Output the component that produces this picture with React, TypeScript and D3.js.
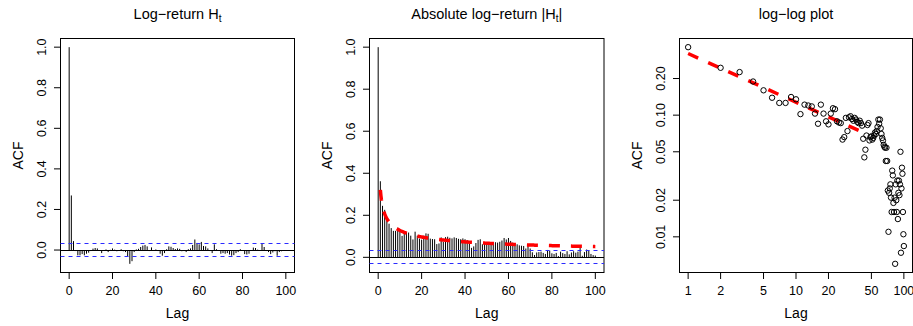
import React from 'react';
import * as d3 from 'd3';

const W = 913;
const H = 326;
const FONT = '"Liberation Sans", Arial, Helvetica, sans-serif';

// ACF of the log-return H_t, lags 0..100
const acfReturn = [
  1.0, 0.269, 0.044, -0.005, -0.026, -0.026, -0.02, -0.026, -0.018, -0.013,
  -0.005, 0.007, 0.01, 0.008, -0.003, -0.015, -0.004, 0.003, -0.01, 0.001,
  0.008, 0.002, -0.006, -0.003, 0.004, -0.006, -0.01, -0.03, -0.068, -0.055,
  -0.01, 0.003, 0.006, 0.015, 0.022, 0.025, 0.018, -0.005, 0.013, -0.004,
  0.003, -0.005, -0.018, -0.028, -0.015, 0.004, 0.018, 0.016, 0.01, 0.005,
  0.008, 0.006, -0.006, -0.005, -0.01, 0.004, 0.008, 0.025, 0.052, 0.035,
  0.028, 0.04, 0.02, 0.018, 0.008, -0.005, -0.015, 0.028, 0.004, -0.003,
  -0.018, -0.015, -0.018, -0.015, -0.022, -0.028, -0.025, -0.015, -0.01, 0.004,
  -0.003, -0.02, -0.022, -0.018, -0.003, 0.012, 0.01, 0.002, -0.002, 0.03,
  0.015, -0.005, -0.01, -0.02, -0.012, -0.006, -0.028, -0.01, -0.006, -0.004,
  -0.002,
];

// ACF of the absolute log-return |H_t|, lags 1..100 (lag 0 is 1)
const acfAbs = [
  0.362, 0.245, 0.226, 0.189, 0.16, 0.139, 0.126, 0.126, 0.141, 0.135,
  0.102, 0.122, 0.12, 0.118, 0.103, 0.085, 0.122, 0.103, 0.089, 0.084,
  0.103, 0.114, 0.112, 0.089, 0.087, 0.086, 0.063, 0.066, 0.095, 0.074,
  0.096, 0.098, 0.093, 0.09, 0.095, 0.092, 0.088, 0.086, 0.09, 0.086,
  0.082, 0.064, 0.045, 0.052, 0.068, 0.083, 0.086, 0.062, 0.066, 0.067,
  0.063, 0.065, 0.068, 0.072, 0.07, 0.074, 0.08, 0.092, 0.085, 0.092,
  0.078, 0.07, 0.065, 0.062, 0.057, 0.055, 0.054, 0.042, 0.054, 0.042,
  0.024, 0.011, 0.023, 0.025, 0.027, 0.021, 0.016, 0.035, 0.032, 0.019,
  0.016, 0.021, 0.006, 0.027, 0.02, 0.016, 0.029, 0.014, 0.023, 0.029,
  0.022, 0.027, 0.05, 0.0074, 0.025, 0.037, 0.033, 0.016, 0.0105, 0.0084,
];

// power-law fit ACF ~ a * lag^b, fitted on lags 1..44
const fitAmp = 0.321;
const fitExp = -0.4;
const fitLagMax = 44;

const ciLevel = 0.031;

const linTicksX = [0, 20, 40, 60, 80, 100];
const linTicksY = [0, 0.2, 0.4, 0.6, 0.8, 1.0];
const logTicksX = [1, 2, 5, 10, 20, 50, 100];
const logTicksY = [0.01, 0.02, 0.05, 0.1, 0.2];

const boxes = [
  { left: 60.5, right: 294.5 },
  { left: 369.5, right: 604 },
  { left: 679.5, right: 912.5 },
];
const boxTop = 38.5;
const boxBottom = 272.5;

const expand = (ext: number[], f = 0.04) => {
  const d = (ext[1] - ext[0]) * f;
  return [ext[0] - d, ext[1] + d];
};

// snap a horizontal hairline onto a pixel row
const crisp = (v: number) => Math.round(v - 0.5) + 0.5;

const Frame = ({ left, right, title, xTicks, yTicks, x, y, fmtY }: any) => (
  <g fontFamily={FONT} fill="#000">
    <rect x={left} y={boxTop} width={right - left} height={boxBottom - boxTop} fill="none" stroke="#000" strokeWidth={1} />
    {xTicks.map((t: number) => (
      <g key={'x' + t}>
        <line x1={x(t)} x2={x(t)} y1={boxBottom} y2={boxBottom + 6.5} stroke="#000" />
        <text x={x(t)} y={295} textAnchor="middle" fontSize={12.5}>{t}</text>
      </g>
    ))}
    {yTicks.map((t: number) => (
      <g key={'y' + t}>
        <line x1={left - 6.5} x2={left} y1={y(t)} y2={y(t)} stroke="#000" />
        <text transform={`translate(${left - 14.5},${y(t)}) rotate(-90)`} textAnchor="middle" fontSize={12.5}>{fmtY(t)}</text>
      </g>
    ))}
    <text x={(left + right) / 2} y={318} textAnchor="middle" fontSize={14}>Lag</text>
    <text transform={`translate(${left - 37.5},${(boxTop + boxBottom) / 2}) rotate(-90)`} textAnchor="middle" fontSize={14}>ACF</text>
    <text x={(left + right) / 2} y={18.5} textAnchor="middle" fontSize={14.5}>{title}</text>
  </g>
);

const AcfPanel = ({ box, values, title, fit }: any) => {
  const x = d3.scaleLinear().domain(expand([0, values.length - 1])).range([box.left, box.right]);
  const ext = d3.extent([...values, -ciLevel, ciLevel]) as number[];
  const y = d3.scaleLinear().domain(expand(ext)).range([boxBottom, boxTop]);
  const fitLine = d3.line<number>().x(l => x(l)).y(l => y(fitAmp * Math.pow(l, fitExp)));
  return (
    <g>
      <Frame left={box.left} right={box.right} title={title} xTicks={linTicksX} yTicks={linTicksY} x={x} y={y} fmtY={d3.format('.1f')} />
      {values.map((v: number, i: number) => (
        <line key={i} x1={x(i)} x2={x(i)} y1={y(0)} y2={y(v)} stroke="#000" strokeWidth={1} />
      ))}
      <line x1={box.left} x2={box.right} y1={crisp(y(0))} y2={crisp(y(0))} stroke="#000" />
      {[ciLevel, -ciLevel].map(c => (
        <line key={c} x1={box.left} x2={box.right} y1={crisp(y(c))} y2={crisp(y(c))} stroke="#2b2bff" strokeDasharray="4 4" />
      ))}
      {fit && (
        <path d={fitLine(d3.range(1, values.length - 1 + 0.01, 0.25)) || ''} fill="none" stroke="#ff0000" strokeWidth={3.5} strokeDasharray="11 11" />
      )}
    </g>
  );
};

const LogPanel = ({ box }: any) => {
  const lags = acfAbs.map((_, i) => i + 1);
  const pts = acfAbs.map((v, i) => ({ lag: lags[i], v })).filter(d => d.v > 0);
  const lx = expand([0, 2]);
  const x = d3.scaleLog().domain([10 ** lx[0], 10 ** lx[1]]).range([box.left, box.right]);
  const ve = d3.extent(pts, d => Math.log10(d.v)) as number[];
  const ly = expand(ve);
  const y = d3.scaleLog().domain([10 ** ly[0], 10 ** ly[1]]).range([boxBottom, boxTop]);
  const fitLine = d3.line<number>().x(l => x(l)).y(l => y(fitAmp * Math.pow(l, fitExp)));
  return (
    <g>
      <Frame left={box.left} right={box.right} title="log−log plot" xTicks={logTicksX} yTicks={logTicksY} x={x} y={y} fmtY={d3.format('.2f')} />
      <path d={fitLine([1, fitLagMax]) || ''} fill="none" stroke="#ff0000" strokeWidth={3.5} strokeDasharray="11 11" />
      {pts.map(d => (
        <circle key={d.lag} cx={x(d.lag)} cy={y(d.v)} r={2.7} fill="none" stroke="#000" strokeWidth={1} />
      ))}
    </g>
  );
};

export default function App() {
  const absFull = [1.0, ...acfAbs];
  return (
    <svg width={W} height={H} style={{ position: 'absolute', left: 0, top: 0, background: '#fff' }}>
      <AcfPanel box={boxes[0]} values={acfReturn}
        title={<>Log−return H<tspan dy={3} fontSize={10}>t</tspan></>} fit={false} />
      <AcfPanel box={boxes[1]} values={absFull}
        title={<>Absolute log−return |H<tspan dy={3} fontSize={10}>t</tspan><tspan dy={-3}>|</tspan></>} fit={true} />
      <LogPanel box={boxes[2]} />
    </svg>
  );
}
